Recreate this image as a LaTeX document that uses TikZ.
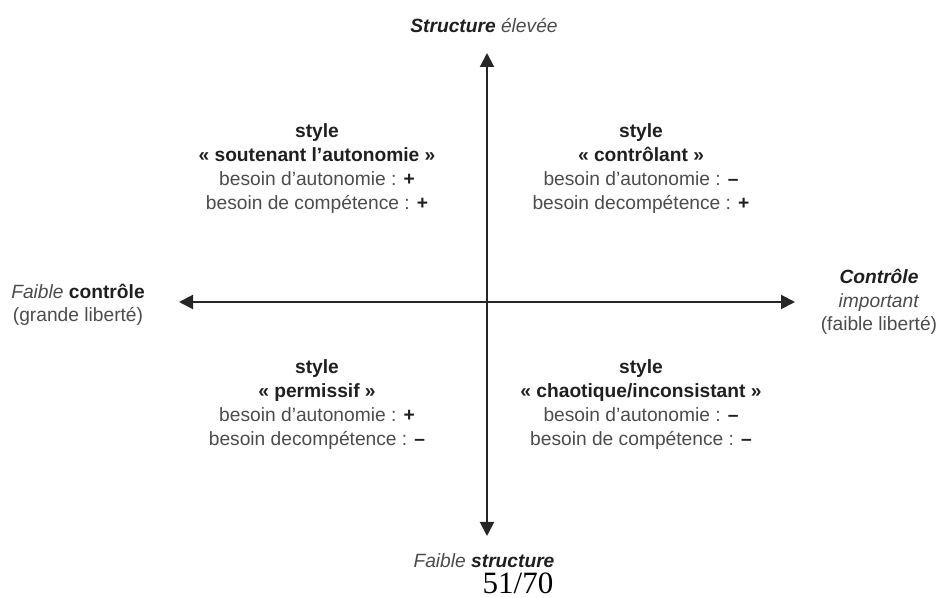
\documentclass[tikz,border=0pt]{standalone}
\usepackage{fontspec}
\setmainfont{Liberation Sans}
\newfontfamily\pagefont{Liberation Serif}
\usetikzlibrary{positioning,arrows.meta}
\newcommand{\fort}[1]{\textbf{\textcolor{black!88}{#1}}}
\tikzset{
	axe/.style={{Triangle[length=7pt,width=7pt]}-{Triangle[length=7pt,width=7pt]}, line width=1pt, draw=black!85},
	quadtxt/.style={align=center, text=black!70, inner sep=0pt, font=\fontsize{9.6}{12}\selectfont},
	axetxt/.style={align=center, text=black!70, inner sep=0pt, font=\fontsize{9.6}{11.8}\selectfont},
}
\begin{document}
\begin{tikzpicture}[x=0.5pt, y=-0.5pt]
		\useasboundingbox (0, 0) rectangle (939, 598);
		% axes
		\coordinate (haut) at (487, 53);
		\coordinate (bas) at (487, 536);
		\coordinate (gauche) at (179, 302);
		\coordinate (droite) at (795, 302);
		\draw[axe] (bas) -- (haut);
		\draw[axe] (gauche) -- (droite);
		% labels of the axes
		\node[axetxt] (structHaut) at (484, 26) {\fort{\textit{Structure}} \textit{élevée}};
		\node[axetxt] (structBas) at (484, 561) {\textit{Faible} \fort{\textit{structure}}};
		\node[axetxt] (controleBas) at (78, 305) {\textit{Faible} \fort{contrôle}\\(grande liberté)};
		\node[axetxt] (controleHaut) at (879, 302) {\fort{\textit{Contrôle}}\\\textit{important}\\(faible liberté)};
		% the four styles
		\node[quadtxt] (soutenant) at (317, 169) {\fort{style}\\\fort{« soutenant l’autonomie »}\\besoin d’autonomie : \fort{+}\\besoin de compétence : \fort{+}};
		\node[quadtxt] (controlant) at (641, 169) {\fort{style}\\\fort{« contrôlant »}\\besoin d’autonomie : \fort{–}\\besoin decompétence : \fort{+}};
		\node[quadtxt] (permissif) at (317, 405) {\fort{style}\\\fort{« permissif »}\\besoin d’autonomie : \fort{+}\\besoin decompétence : \fort{–}};
		\node[quadtxt] (chaotique) at (641, 405) {\fort{style}\\\fort{« chaotique/inconsistant »}\\besoin d’autonomie : \fort{–}\\besoin de compétence : \fort{–}};
		\node[font=\pagefont\fontsize{15.5}{17}\selectfont, inner sep=0pt, anchor=base] (page) at (518, 594) {51/70};
\end{tikzpicture}
\end{document}
